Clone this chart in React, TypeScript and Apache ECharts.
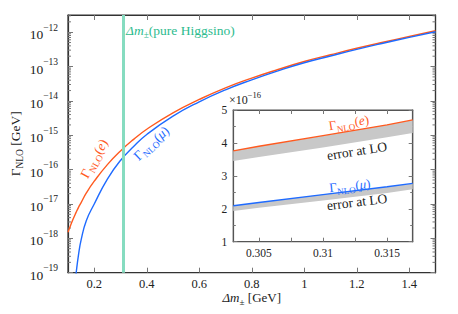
import React, { useEffect, useRef } from 'react';
import * as echarts from 'echarts';

// ---- data ----
const electronSplitting = [0.10, 0.11, 0.12, 0.13, 0.14, 0.15, 0.17, 0.2, 0.25, 0.3, 0.35, 0.4, 0.5, 0.6, 0.7, 0.8, 0.9, 1.0, 1.1, 1.2, 1.3, 1.4, 1.5];
const gammaElectron = [1.5e-18, 2.4e-18, 3.7e-18, 5.5e-18, 8e-18, 1.1e-17, 2.1e-17, 4.6e-17, 1.4e-16, 3.5e-16, 7.6e-16, 1.5e-15, 4.5e-15, 1.1e-14, 2.4e-14, 4.6e-14, 8.2e-14, 1.4e-13, 2.2e-13, 3.4e-13, 5.1e-13, 7.5e-13, 1.1e-12];
const muonSplitting = [0.12, 0.125, 0.13, 0.14, 0.15, 0.17, 0.2, 0.25, 0.3, 0.35, 0.4, 0.5, 0.6, 0.7, 0.8, 0.9, 1.0, 1.1, 1.2, 1.3, 1.4, 1.5];
const gammaMuon = [1.5e-20, 4e-20, 8.5e-20, 3.3e-19, 9e-19, 3.3e-18, 1.0e-17, 5.3e-17, 1.85e-16, 4.7e-16, 1.05e-15, 3.6e-15, 9.4e-15, 2.1e-14, 4.1e-14, 7.5e-14, 1.29e-13, 2.03e-13, 3.16e-13, 4.77e-13, 7.05e-13, 1.03e-12];
const pureHiggsinoSplitting = 0.308;

const insetSplitting = [0.303, 0.305, 0.31, 0.315, 0.317];
const insetElectron = [3.76, 3.90, 4.22, 4.55, 4.70];
const insetElectronLO = [3.45, 3.57, 3.86, 4.17, 4.30];
const insetMuon = [2.09, 2.19, 2.43, 2.67, 2.77];
const insetMuonLO = [1.93, 2.03, 2.25, 2.48, 2.59];

const mainXTicks = [0.2, 0.4, 0.6, 0.8, 1.0, 1.2, 1.4];
const mainYTicks = [1e-19, 1e-18, 1e-17, 1e-16, 1e-15, 1e-14, 1e-13, 1e-12];
const insetXLabels = [0.305, 0.31, 0.315];
const insetXTicks = [0.305, 0.3075, 0.31, 0.3125, 0.315];

const FONT = "'Liberation Serif', 'DejaVu Serif', serif";
const ORANGE = '#ff5a1f';
const BLUE = '#1f6bff';
const GREEN_LINE = '#86dcc0';
const GREEN_TEXT = '#2dbb8e';
const BAND = '#c8c8c8';
const AXIS = '#333';
const TICK = '#777';
const TEXT = '#222';

// rich-text styles: g = upright, i = italic, s = subscript (lowered)
function subRich(color: string, size: number) {
  return {
    g: { fontFamily: FONT, fontSize: size, fill: color, color, verticalAlign: 'top' },
    i: { fontFamily: FONT, fontSize: size, fontStyle: 'italic', fill: color, color, verticalAlign: 'top' },
    s: { fontFamily: FONT, fontSize: size * 0.7, fill: color, color, verticalAlign: 'bottom', padding: [Math.round(size * 0.55), 0, 0, 0] },
  } as any;
}

export default function App() {
  const ref = useRef<HTMLDivElement>(null);
  useEffect(() => {
    const chart = echarts.init(ref.current!, undefined, { renderer: 'svg' });

    const minorY: number[][] = [];
    for (let e = -19; e <= -12; e++) {
      for (let k = 2; k <= 9; k++) {
        const v = k * Math.pow(10, e);
        if (v < Math.pow(10, -11.5)) minorY.push([0.1, v]);
      }
    }

    const decadeLabel = (v: number) => {
      const e = Math.round(Math.log10(v));
      return `{b|10}{s|−${Math.abs(e)}}`;
    };

    const yRich = {
      b: { fontFamily: FONT, fontSize: 13.5, color: TEXT, lineHeight: 19, verticalAlign: 'bottom' },
      s: { fontFamily: FONT, fontSize: 9.5, color: TEXT, lineHeight: 19, verticalAlign: 'top' },
    };

    const bandSeries = (hi: number[], lo: number[]) => ({
      type: 'custom', xAxisIndex: 2, yAxisIndex: 2, z: 3, silent: true,
      data: [[insetSplitting[0], hi[0]]],
      renderItem: (params: any, api: any) => {
        const pts: number[][] = [];
        insetSplitting.forEach((x, i) => pts.push(api.coord([x, hi[i]])));
        for (let i = insetSplitting.length - 1; i >= 0; i--) pts.push(api.coord([insetSplitting[i], lo[i]]));
        return { type: 'polygon', shape: { points: pts }, style: { fill: BAND } };
      },
    });

    const option: any = {
      animation: false,
      backgroundColor: '#fff',
      grid: [
        { left: 68, top: 15, width: 367.5, height: 257.7, show: true, borderColor: AXIS, borderWidth: 1.2, backgroundColor: 'transparent' },
        { left: 233.3, top: 110, width: 179.4, height: 131.7, show: true, borderColor: '#555', borderWidth: 1.2, backgroundColor: '#fff' },
      ],
      xAxis: [
        {
          type: 'value', gridIndex: 0, min: 0.1, max: 1.5, position: 'bottom',
          axisLine: { show: true, lineStyle: { color: AXIS, width: 1.2 } },
          axisTick: { show: true, inside: true, length: 5, customValues: mainXTicks, lineStyle: { color: TICK } },
          axisLabel: { customValues: mainXTicks, formatter: (v: number) => String(+v.toFixed(1)), fontFamily: FONT, fontSize: 12.5, lineHeight: 12, color: TEXT, margin: 5 },
          splitLine: { show: false },
          name: '{i|Δm}{s|±} {g|[GeV]}', nameLocation: 'middle', nameGap: 18, nameMoveOverlap: false,
          nameTextStyle: { rich: subRich(TEXT, 13) },
        },
        {
          type: 'value', gridIndex: 0, min: 0.1, max: 1.5, position: 'top',
          axisLine: { show: true, lineStyle: { color: AXIS, width: 1.2 } },
          axisTick: { show: true, inside: true, length: 5, customValues: mainXTicks, lineStyle: { color: TICK } },
          axisLabel: { show: false }, splitLine: { show: false },
        },
        {
          type: 'value', gridIndex: 1, min: 0.303, max: 0.317, position: 'bottom',
          axisLine: { show: true, lineStyle: { color: '#555', width: 1.2 } },
          axisTick: { show: true, inside: true, length: 4, customValues: insetXTicks, lineStyle: { color: TICK } },
          axisLabel: { customValues: insetXLabels, formatter: (v: number) => String(+v.toFixed(4)), fontFamily: FONT, fontSize: 11.5, color: TEXT, margin: 5 },
          splitLine: { show: false },
        },
        {
          type: 'value', gridIndex: 1, min: 0.303, max: 0.317, position: 'top',
          axisLine: { show: true, lineStyle: { color: '#555', width: 1.2 } },
          axisTick: { show: true, inside: true, length: 4, customValues: insetXTicks, lineStyle: { color: TICK } },
          axisLabel: { show: false }, splitLine: { show: false },
        },
      ],
      yAxis: [
        {
          type: 'log', gridIndex: 0, min: 1e-19, max: Math.pow(10, -11.5), position: 'left',
          axisLine: { show: true, lineStyle: { color: AXIS, width: 1.2 } },
          axisTick: { show: true, inside: true, length: 5, customValues: mainYTicks, lineStyle: { color: TICK } },
          axisLabel: { customValues: mainYTicks, formatter: decadeLabel, rich: yRich, margin: 10 },
          splitLine: { show: false },
          name: '{g|Γ}{s|NLO} {g|[GeV]}', nameLocation: 'middle', nameGap: 44, nameMoveOverlap: false,
          nameTextStyle: { rich: subRich(TEXT, 13.5) },
        },
        {
          type: 'log', gridIndex: 0, min: 1e-19, max: Math.pow(10, -11.5), position: 'right',
          axisLine: { show: true, lineStyle: { color: AXIS, width: 1.2 } },
          axisTick: { show: true, inside: true, length: 5, customValues: mainYTicks, lineStyle: { color: TICK } },
          axisLabel: { show: false }, splitLine: { show: false },
        },
        {
          type: 'value', gridIndex: 1, min: 1, max: 5, interval: 1, position: 'left',
          axisLine: { show: true, lineStyle: { color: '#555', width: 1.2 } },
          axisTick: { show: true, inside: true, length: 4, lineStyle: { color: TICK } },
          minorTick: { show: true, splitNumber: 2, length: 2.5, lineStyle: { color: TICK } },
          axisLabel: { fontFamily: FONT, fontSize: 11.5, color: TEXT, margin: 6 },
          splitLine: { show: false },
        },
        {
          type: 'value', gridIndex: 1, min: 1, max: 5, interval: 1, position: 'right',
          axisLine: { show: true, lineStyle: { color: '#555', width: 1.2 } },
          axisTick: { show: true, inside: true, length: 4, lineStyle: { color: TICK } },
          minorTick: { show: true, splitNumber: 2, length: 2.5, lineStyle: { color: TICK } },
          axisLabel: { show: false }, splitLine: { show: false },
        },
      ],
      series: [
        {
          type: 'line', xAxisIndex: 0, yAxisIndex: 0, data: [], z: 1,
          markLine: {
            silent: true, symbol: ['none', 'none'], label: { show: false },
            lineStyle: { color: GREEN_LINE, width: 3, type: 'solid' },
            data: [{ xAxis: pureHiggsinoSplitting }],
          },
        },
        {
          type: 'custom', xAxisIndex: 0, yAxisIndex: 0, data: minorY, z: 2, silent: true,
          renderItem: (params: any, api: any) => {
            const v = api.value(1);
            const pl = api.coord([0.1, v]);
            const pr = api.coord([1.5, v]);
            return {
              type: 'group',
              children: [
                { type: 'line', shape: { x1: pl[0], y1: pl[1], x2: pl[0] + 3, y2: pl[1] }, style: { stroke: TICK, lineWidth: 1 } },
                { type: 'line', shape: { x1: pr[0], y1: pr[1], x2: pr[0] - 3, y2: pr[1] }, style: { stroke: TICK, lineWidth: 1 } },
              ],
            };
          },
        },
        {
          type: 'line', xAxisIndex: 0, yAxisIndex: 0, z: 4, smooth: true, showSymbol: false,
          data: electronSplitting.map((x, i) => [x, gammaElectron[i]]),
          lineStyle: { color: ORANGE, width: 1.4 },
        },
        {
          type: 'line', xAxisIndex: 0, yAxisIndex: 0, z: 4, smooth: true, showSymbol: false,
          data: muonSplitting.map((x, i) => [x, gammaMuon[i]]),
          lineStyle: { color: BLUE, width: 1.4 },
        },
        bandSeries(insetElectron, insetElectronLO),
        bandSeries(insetMuon, insetMuonLO),
        {
          type: 'line', xAxisIndex: 2, yAxisIndex: 2, showSymbol: false, z: 5,
          data: insetSplitting.map((x, i) => [x, insetElectron[i]]),
          lineStyle: { color: ORANGE, width: 1.4 },
        },
        {
          type: 'line', xAxisIndex: 2, yAxisIndex: 2, showSymbol: false, z: 5,
          data: insetSplitting.map((x, i) => [x, insetMuon[i]]),
          lineStyle: { color: BLUE, width: 1.4 },
        },
      ],
      graphic: [
        {
          type: 'text', x: 126, y: 31, z: 100,
          style: { text: '{i|Δm}{s|±}{g|(pure Higgsino)}', verticalAlign: 'middle', rich: subRich(GREEN_TEXT, 13.5) },
        },
        {
          type: 'text', x: 95, y: 159, rotation: (61 * Math.PI) / 180, z: 100,
          style: { text: '{g|Γ}{s|NLO}{g|(}{i|e}{g|)}', align: 'center', verticalAlign: 'middle', rich: subRich(ORANGE, 13.5) },
        },
        {
          type: 'text', x: 152, y: 144, rotation: (43 * Math.PI) / 180, z: 100,
          style: { text: '{g|Γ}{s|NLO}{g|(}{i|μ}{g|)}', align: 'center', verticalAlign: 'middle', rich: subRich(BLUE, 13.5) },
        },
        {
          type: 'text', x: 349, y: 124, rotation: (9 * Math.PI) / 180, z: 100,
          style: { text: '{g|Γ}{s|NLO}{g|(}{i|e}{g|)}', align: 'center', verticalAlign: 'middle', rich: subRich(ORANGE, 13) },
        },
        {
          type: 'text', x: 357, y: 151, rotation: (9 * Math.PI) / 180, z: 100,
          style: { text: 'error at LO', fontFamily: FONT, fontSize: 13.5, fill: TEXT, align: 'center', verticalAlign: 'middle' },
        },
        {
          type: 'text', x: 350, y: 187, rotation: (6 * Math.PI) / 180, z: 100,
          style: { text: '{g|Γ}{s|NLO}{g|(}{i|μ}{g|)}', align: 'center', verticalAlign: 'middle', rich: subRich(BLUE, 13) },
        },
        {
          type: 'text', x: 357, y: 202, rotation: (7 * Math.PI) / 180, z: 100,
          style: { text: 'error at LO', fontFamily: FONT, fontSize: 13.5, fill: TEXT, align: 'center', verticalAlign: 'middle' },
        },
        {
          type: 'text', x: 229, y: 98, z: 100,
          style: {
            text: '{b|×10}{s|−16}', verticalAlign: 'middle',
            rich: {
              b: { fontFamily: FONT, fontSize: 12, fill: TEXT, lineHeight: 16, verticalAlign: 'bottom' },
              s: { fontFamily: FONT, fontSize: 8.5, fill: TEXT, lineHeight: 16, verticalAlign: 'top' },
            },
          },
        },
      ],
    };

    chart.setOption(option);
    return () => chart.dispose();
  }, []);
  return <div ref={ref} style={{ position: 'fixed', left: 0, top: 0, width: 458, height: 314, background: '#fff' }} />;
}
